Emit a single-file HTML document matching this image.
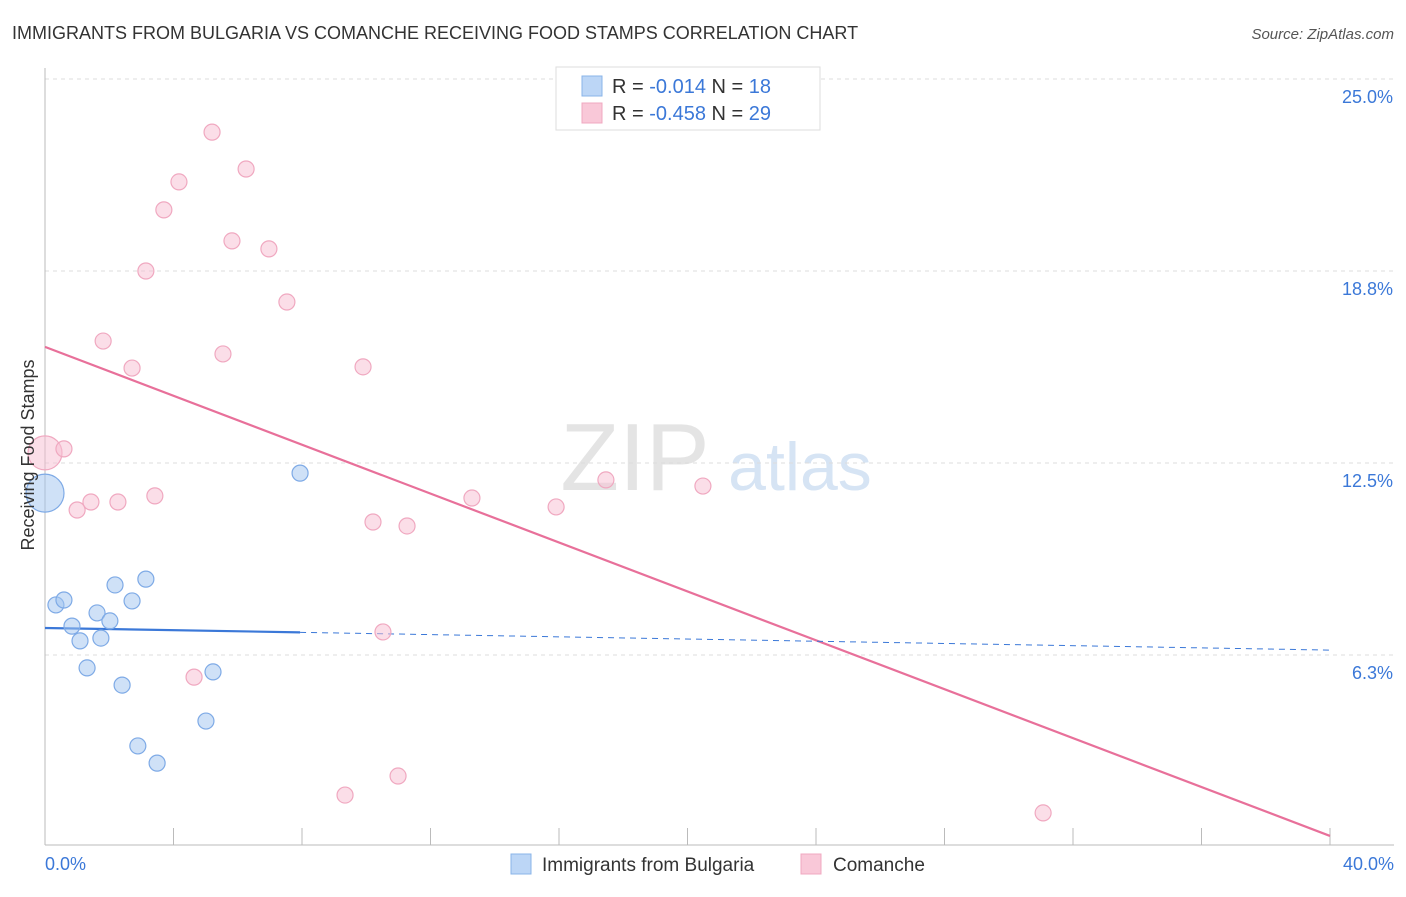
<!DOCTYPE html>
<html><head><meta charset="utf-8"><style>
body{margin:0;background:#fff;font-family:"Liberation Sans",sans-serif;}
svg text{font-family:"Liberation Sans",sans-serif;}
</style></head><body>
<svg width="1406" height="892" viewBox="0 0 1406 892" id="c">
<text x="12" y="39" font-size="18" fill="#333">IMMIGRANTS FROM BULGARIA VS COMANCHE RECEIVING FOOD STAMPS CORRELATION CHART</text>
<text x="1394" y="39" font-size="15" fill="#555" font-style="italic" text-anchor="end">Source: ZipAtlas.com</text>
<text x="635" y="490" font-size="96" fill="#e4e4e4" font-family="Liberation Serif" text-anchor="middle">ZIP</text>
<text x="800" y="490" font-size="68" fill="#d6e4f4" text-anchor="middle">atlas</text>
<g id="grid"></g><g id="axes"></g><g id="lines"></g><g id="pts"></g>
<text x="34" y="455" font-size="18" fill="#333" text-anchor="middle" transform="rotate(-90 34 455)">Receiving Food Stamps</text>
<g>
<rect x="556" y="67" width="264" height="63" fill="#fff" stroke="#ddd"/>
<rect x="582" y="76" width="20" height="20" fill="#bcd6f6" stroke="#8ab4e8"/>
<text x="612" y="93" font-size="20" fill="#333">R = <tspan fill="#3b78d8">-0.014</tspan>   N = <tspan fill="#3b78d8">18</tspan></text>
<rect x="582" y="103" width="20" height="20" fill="#f9c8d8" stroke="#f0a8c0"/>
<text x="612" y="120" font-size="20" fill="#333">R = <tspan fill="#3b78d8">-0.458</tspan>   N = <tspan fill="#3b78d8">29</tspan></text>
</g>
<g>
<rect x="511" y="854" width="20" height="20" fill="#bcd6f6" stroke="#8ab4e8"/>
<text x="542" y="871" font-size="19" fill="#333">Immigrants from Bulgaria</text>
<rect x="801" y="854" width="20" height="20" fill="#f9c8d8" stroke="#f0a8c0"/>
<text x="833" y="871" font-size="19" fill="#333">Comanche</text>
</g>
</svg>
<script>
const yTicks=[6.3,12.5,18.8,25.0];
const blueX=[0,0.34,0.59,0.84,1.09,1.31,1.62,1.74,2.02,2.18,2.40,2.71,3.14,2.89,3.49,5.01,5.23,7.94];
const blueY=[11.52,7.88,8.04,7.19,6.71,5.83,7.62,6.80,7.36,8.53,5.27,8.01,8.72,3.29,2.73,4.10,5.70,12.17];
const pinkX=[0,0.59,1.00,1.43,2.27,3.42,1.81,2.71,3.14,3.70,4.17,5.20,6.26,5.82,6.97,5.54,7.53,9.90,10.21,11.27,10.52,4.64,9.34,10.99,13.29,15.91,17.46,20.48,31.07];
const pinkY=[12.83,12.96,10.97,11.23,11.23,11.43,16.47,15.59,18.75,20.74,21.65,23.27,22.07,19.73,19.47,16.05,17.74,15.63,10.58,10.45,7.00,5.53,1.69,2.31,11.36,11.07,11.95,11.75,1.11];
const pinkTrend=[16.28,0.36];
const blueTrend=[7.13,6.41];
const blueSolidEnd=7.94;
const X=v=>45+v*(1285/40), Y=v=>847-v*(192/6.25);
const NS='http://www.w3.org/2000/svg';
function mk(p,t,a){const e=document.createElementNS(NS,t);for(const k in a)e.setAttribute(k,a[k]);document.getElementById(p).appendChild(e);return e;}
yTicks.forEach(t=>{const yy=Y(t===6.3?6.25:t===18.8?18.75:t);
const l=mk('grid','line',{x1:45,x2:1394,y1:yy,y2:yy,stroke:'#ddd','stroke-dasharray':'4 4'});


const tx=mk('grid','text',{x:1393,y:yy+24,'font-size':18,fill:'#3b78d8','text-anchor':'end'});tx.textContent=t.toFixed(1)+'%';

});
mk('axes','line',{x1:45,x2:45,y1:68,y2:845,stroke:'#bbb'});
mk('axes','line',{x1:45,x2:1394,y1:845,y2:845,stroke:'#bbb'});
for(let i=0;i<=10;i++){const t=mk('axes','line',{x1:X(i*4),x2:X(i*4),y1:828,y2:845,stroke:'#bbb'});

}
[['0.0%',45,'start'],['40.0%',1394,'end']].forEach(d=>{const t=mk('axes','text',{x:d[1],y:870,'font-size':18,fill:'#3b78d8','text-anchor':d[2]});t.textContent=d[0];

});
let ln=mk('lines','line',{x1:X(0),y1:Y(pinkTrend[0]),x2:X(40),y2:Y(pinkTrend[1]),stroke:'#e8709a','stroke-width':2.2});


const bm=blueTrend[0]+(blueTrend[1]-blueTrend[0])*blueSolidEnd/40;
ln=mk('lines','line',{x1:X(0),y1:Y(blueTrend[0]),x2:X(blueSolidEnd),y2:Y(bm),stroke:'#3b78d8','stroke-width':2.2});


ln=mk('lines','line',{x1:X(blueSolidEnd),y1:Y(bm),x2:X(40),y2:Y(blueTrend[1]),stroke:'#3b78d8','stroke-width':1,'stroke-dasharray':'6 5'});


pinkX.forEach((v,i)=>{const c=mk('pts','circle',{cx:X(v),cy:Y(pinkY[i]),r:i===0?17:8,fill:'rgba(248,190,210,0.5)',stroke:'#f0a8c0','stroke-width':1.2});

});
blueX.forEach((v,i)=>{const c=mk('pts','circle',{cx:X(v),cy:Y(blueY[i]),r:i===0?19:8,fill:'rgba(160,196,240,0.5)',stroke:'#7eaae6','stroke-width':1.2});

});
</script>
</body></html>
